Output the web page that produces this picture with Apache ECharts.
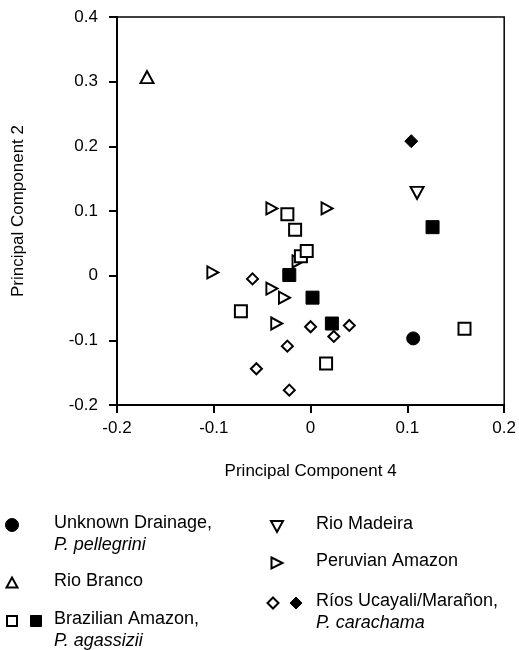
<!DOCTYPE html>
<html>
<head>
<meta charset="utf-8">
<script src="https://cdn.jsdelivr.net/npm/echarts@6/dist/echarts.min.js"></script>
<style>
  html, body { margin: 0; padding: 0; background: #fff; }
  #chart { width: 519px; height: 650px; }
</style>
</head>
<body>
<div id="chart"></div>
<script>
// values: [PC4, PC2]
const unknownDrainage = [[0.106, -0.097]];
const rioBranco = [[-0.169, 0.307]];
const rioMadeira = [[0.110, 0.128]];
const peruvianAmazon = [
  [-0.040, 0.104], [0.017, 0.104], [-0.013, 0.022], [-0.101, 0.005],
  [-0.040, -0.020], [-0.027, -0.034], [-0.035, -0.074]
];
const brazilOpen = [
  [-0.024, 0.095], [-0.016, 0.071], [-0.010, 0.030], [-0.004, 0.038],
  [-0.072, -0.055], [0.159, -0.082], [0.016, -0.136]
];
const brazilFilled = [[0.126, 0.075], [-0.022, 0.001], [0.002, -0.034], [0.022, -0.074]];
const ucayaliOpen = [
  [-0.060, -0.005], [0.000, -0.079], [0.040, -0.077], [0.024, -0.094],
  [-0.024, -0.109], [-0.056, -0.144], [-0.022, -0.177]
];
const ucayaliFilled = [[0.104, 0.208]];

const xTicks = [-0.2, -0.1, 0, 0.1, 0.2];
const yTicks = [-0.2, -0.1, 0, 0.1, 0.2, 0.3, 0.4];

const FONT = "'Liberation Sans', Arial, sans-serif";
const TRI_RIGHT = "path://M0,0 L10,5 L0,10 Z";
const TRI_DOWN = "path://M0,0 L10,0 L5,9 Z";
const TRI_UP = "path://M5,0 L10,9 L0,9 Z";

const openStyle = { color: "#fff", borderColor: "#000", borderWidth: 2, opacity: 1 };
const fillStyle = { color: "#000", borderColor: "#000", borderWidth: 1, opacity: 1 };

function fmt(v) {
  return v === 0 ? "0" : String(v);
}

const myChart = echarts.init(document.getElementById("chart"));

// legend drawn by hand (two symbols per entry, italic second lines)
function legendText(x, cy, main, sub) {
  return {
    type: "text",
    left: x,
    top: cy - 11,
    style: {
      text: sub ? "{a|" + main + "}\n{b|" + sub + "}" : "{a|" + main + "}",
      rich: {
        a: { fontFamily: FONT, fontSize: 18, lineHeight: 22, fill: "#000" },
        b: { fontFamily: FONT, fontSize: 18, lineHeight: 22, fontStyle: "italic", fill: "#000" }
      }
    }
  };
}
function legendSym(shape, cx, cy, filled, size) {
  const s = size || 11;
  const style = filled
    ? { fill: "#000", stroke: "#000", lineWidth: 1 }
    : { fill: "#fff", stroke: "#000", lineWidth: 2 };
  let el;
  if (shape === "circle") {
    el = { type: "circle", shape: { cx: cx, cy: cy, r: s / 2 } };
  } else if (shape === "rect") {
    el = { type: "rect", shape: { x: cx - s / 2, y: cy - s / 2, width: s, height: s } };
  } else {
    let pts;
    if (shape === "up") pts = [[cx, cy - s / 2], [cx + s / 2, cy + s / 2 - 1], [cx - s / 2, cy + s / 2 - 1]];
    if (shape === "down") pts = [[cx - s / 2, cy - s / 2 + 1], [cx + s / 2, cy - s / 2 + 1], [cx, cy + s / 2]];
    if (shape === "right") pts = [[cx - s / 2, cy - s / 2], [cx + s / 2, cy], [cx - s / 2, cy + s / 2]];
    if (shape === "diamond") pts = [[cx, cy - s / 2], [cx + s / 2, cy], [cx, cy + s / 2], [cx - s / 2, cy]];
    el = { type: "polygon", shape: { points: pts } };
  }
  el.style = style;
  return el;
}

const graphics = [
  legendSym("circle", 12, 525, true, 13),
  legendText(54, 525, "Unknown Drainage,", "P. pellegrini"),
  legendSym("up", 12, 583, false, 11),
  legendText(54, 583, "Rio Branco"),
  legendSym("rect", 12, 621, false, 10),
  legendSym("rect", 36, 621, true, 11),
  legendText(54, 621, "Brazilian Amazon,", "P. agassizii"),
  legendSym("down", 277, 526, false, 12),
  legendText(316, 526, "Rio Madeira"),
  legendSym("right", 277, 563, false, 11),
  legendText(316, 563, "Peruvian Amazon"),
  legendSym("diamond", 273, 603, false, 11),
  legendSym("diamond", 296, 603, true, 12),
  legendText(316, 603, "Ríos Ucayali/Marañon,", "P. carachama")
];

function series(name, data, symbol, size, style) {
  return {
    name: name,
    type: "scatter",
    data: data,
    symbol: symbol,
    symbolSize: size,
    itemStyle: style,
    emphasis: { disabled: true },
    z: 3
  };
}

myChart.setOption({
  animation: false,
  grid: {
    left: 117,
    right: 13,
    top: 17,
    bottom: 245,
    show: true,
    borderColor: "#000",
    borderWidth: 1.5,
    backgroundColor: "transparent"
  },
  xAxis: {
    type: "value",
    min: xTicks[0],
    max: xTicks[xTicks.length - 1],
    interval: 0.1,
    name: "Principal Component 4",
    nameLocation: "middle",
    nameGap: 58,
    nameTextStyle: { fontFamily: FONT, fontSize: 17, color: "#000" },
    axisLine: { onZero: false, lineStyle: { color: "#000", width: 2 } },
    axisTick: { show: true, inside: false, length: 8, lineStyle: { color: "#000", width: 2 } },
    axisLabel: { fontFamily: FONT, fontSize: 17, color: "#000", margin: 15, formatter: fmt },
    splitLine: { show: false }
  },
  yAxis: {
    type: "value",
    min: yTicks[0],
    max: yTicks[yTicks.length - 1],
    interval: 0.1,
    name: "Principal Component 2",
    nameLocation: "middle",
    nameGap: 90,
    nameTextStyle: { fontFamily: FONT, fontSize: 17, color: "#000" },
    axisLine: { onZero: false, lineStyle: { color: "#000", width: 2 } },
    axisTick: { show: true, inside: false, length: 8, lineStyle: { color: "#000", width: 2 } },
    axisLabel: { fontFamily: FONT, fontSize: 17, color: "#000", margin: 19, formatter: fmt },
    splitLine: { show: false }
  },
  series: [
    series("Ríos Ucayali/Marañon", ucayaliOpen, "diamond", 11, openStyle),
    series("Ríos Ucayali/Marañon (filled)", ucayaliFilled, "diamond", 13, fillStyle),
    series("Peruvian Amazon", peruvianAmazon, TRI_RIGHT, [11, 12], openStyle),
    series("Rio Madeira", rioMadeira, TRI_DOWN, [13, 12], openStyle),
    series("Rio Branco", rioBranco, TRI_UP, [13, 12], openStyle),
    series("Brazilian Amazon", brazilOpen, "rect", 12, openStyle),
    series("Brazilian Amazon (filled)", brazilFilled, "rect", 13, fillStyle),
    series("Unknown Drainage", unknownDrainage, "circle", 13, fillStyle)
  ],
  graphic: graphics
});
</script>
</body>
</html>
